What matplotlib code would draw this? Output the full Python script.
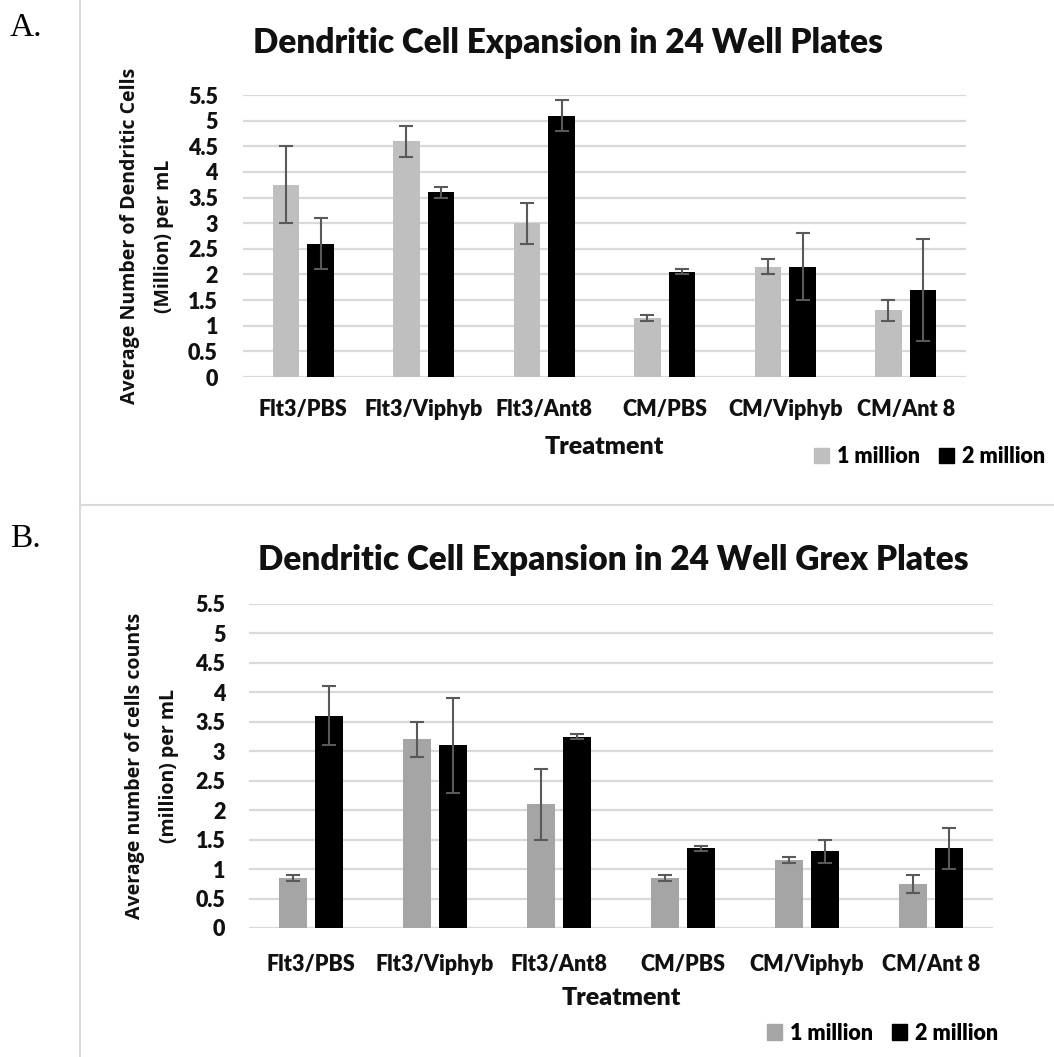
import matplotlib
matplotlib.use("Agg")
import matplotlib.pyplot as plt
from matplotlib.patches import Patch
import numpy as np

categories = ["Flt3/PBS", "Flt3/Viphyb", "Flt3/Ant8", "CM/PBS", "CM/Viphyb", "CM/Ant 8"]
series_names = ["1 million", "2 million"]
yticks = [0, 0.5, 1, 1.5, 2, 2.5, 3, 3.5, 4, 4.5, 5, 5.5]
ytick_labels = ["0", "0.5", "1", "1.5", "2", "2.5", "3", "3.5", "4", "4.5", "5", "5.5"]

# Panel A: 24 well plates
a_1m = [3.75, 4.6, 3.0, 1.15, 2.15, 1.3]
a_1m_err = [0.75, 0.3, 0.4, 0.05, 0.15, 0.2]
a_2m = [2.6, 3.6, 5.1, 2.05, 2.15, 1.7]
a_2m_err = [0.5, 0.1, 0.3, 0.05, 0.65, 1.0]

# Panel B: 24 well Grex plates
b_1m = [0.85, 3.2, 2.1, 0.85, 1.15, 0.75]
b_1m_err = [0.05, 0.3, 0.6, 0.05, 0.05, 0.15]
b_2m = [3.6, 3.1, 3.25, 1.35, 1.3, 1.35]
b_2m_err = [0.5, 0.8, 0.05, 0.05, 0.2, 0.35]

W, H = 1054, 1057
fig = plt.figure(figsize=(W / 100, H / 100), dpi=100)

LATO = "Lato"
WT = "heavy"
GRID = "#D9D9D9"
ERR = "#595959"
TXT = "#111111"


def fx(px):
    return px / W


def fy(py):
    return 1 - py / H


def panel(box, v1, e1, v2, e2, c1, title, title_xy, ylabel, ylab_x,
          ypad, xlab_pad, treat_y, legend_xy):
    l, t, r, b = box
    ax = fig.add_axes([fx(l), fy(b), fx(r) - fx(l), fy(t) - fy(b)])
    x = np.arange(len(categories))
    w = 0.22
    off = 0.145
    ax.bar(x - off, v1, width=w, color=c1, zorder=2)
    ax.bar(x + off, v2, width=w, color="black", zorder=2)
    ax.errorbar(x - off, v1, yerr=e1, fmt="none", ecolor=ERR, elinewidth=1.5,
                capsize=5, capthick=1.5, zorder=3)
    ax.errorbar(x + off, v2, yerr=e2, fmt="none", ecolor=ERR, elinewidth=1.5,
                capsize=5, capthick=1.5, zorder=3)
    ax.set_xlim(-0.5, len(categories) - 0.5)
    ax.set_ylim(0, 5.5)
    ax.set_yticks(yticks)
    ax.set_yticklabels(ytick_labels, fontfamily=LATO, fontweight=WT, fontsize=15.5)
    ax.set_xticks(x)
    ax.set_xticklabels(categories, fontfamily=LATO, fontweight=WT, fontsize=15.5)
    ax.tick_params(axis="both", length=0, colors=TXT)
    ax.tick_params(axis="y", pad=ypad)
    ax.tick_params(axis="x", pad=xlab_pad)
    for s in ax.spines.values():
        s.set_visible(False)
    ax.yaxis.grid(True, color=GRID, linewidth=1.6)
    ax.set_axisbelow(True)
    ax.set_ylabel(ylabel, fontfamily="Open Sans", fontweight="bold", fontsize=14,
                  linespacing=1.9, va="center", color=TXT)
    ax.yaxis.set_label_coords((ylab_x - l) / (r - l), 0.5)
    fig.text(fx(title_xy[0]), fy(title_xy[1]), title, fontfamily=LATO,
             fontweight=WT, fontsize=24, ha="center", va="center", color=TXT)
    fig.text(fx((l + r) / 2), fy(treat_y), "Treatment", fontfamily=LATO,
             fontweight=WT, fontsize=18, ha="center", va="center", color=TXT)
    handles = [Patch(color=c1, label=series_names[0]),
               Patch(color="black", label=series_names[1])]
    fig.legend(handles=handles, loc="center right",
               bbox_to_anchor=(fx(legend_xy[0]), fy(legend_xy[1])),
               ncol=2, frameon=False, handlelength=0.7, handleheight=0.7,
               handletextpad=0.35, columnspacing=0.9, borderpad=0, borderaxespad=0,
               prop={"family": LATO, "weight": WT, "size": 15.5})
    return ax


panel((243, 95, 966, 377), a_1m, a_1m_err, a_2m, a_2m_err, "#BFBFBF",
      "Dendritic Cell Expansion in 24 Well Plates", (568, 43),
      "Average Number of Dendritic Cells\n(Million) per mL", 147,
      18, 15.5, 447, (1045, 457))

panel((249, 604, 993, 928), b_1m, b_1m_err, b_2m, b_2m_err, "#A5A5A5",
      "Dendritic Cell Expansion in 24 Well Grex Plates", (613, 560),
      "Average number of cells counts\n(million) per mL", 152,
      17, 18.4, 998, (998, 1033))

# panel frame lines
fig.add_artist(plt.Line2D([fx(80), fx(80)], [0, 1], color=GRID, linewidth=1.5))
fig.add_artist(plt.Line2D([fx(80), 1], [fy(505), fy(505)], color=GRID, linewidth=1.5))

fig.text(fx(10), fy(28), "A.", fontfamily="Liberation Serif", fontsize=24,
         ha="left", va="center")
fig.text(fx(10), fy(539), "B.", fontfamily="Liberation Serif", fontsize=24,
         ha="left", va="center")

fig.savefig("out.png", dpi=100, facecolor="white")
